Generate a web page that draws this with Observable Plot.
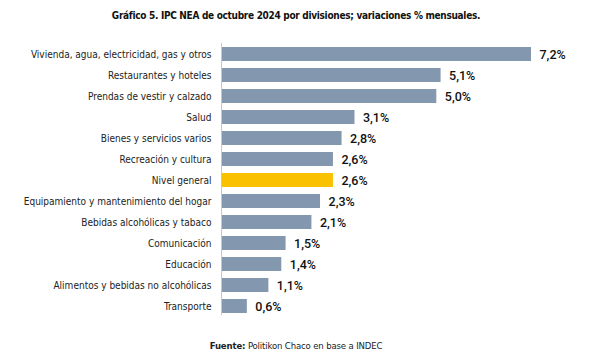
<!DOCTYPE html>
<html>
<head>
<meta charset="utf-8">
<script src="https://cdn.jsdelivr.net/npm/d3@7"></script>
<script src="https://cdn.jsdelivr.net/npm/@observablehq/plot@0.6"></script>
<style>
  html, body { margin: 0; padding: 0; background: #fff; }
  #wrap { width: 592px; height: 364px; position: relative; font-family: "DejaVu Sans Condensed", "Liberation Sans Narrow", sans-serif; }
  #title { height: 30px; line-height: 32px; text-align: center; font-size: 10px; letter-spacing: -0.3px; font-weight: bold; color: #111; }
  #caption { position: absolute; top: 340px; left: 0; width: 592px; text-align: center; font-size: 9.5px; letter-spacing: -0.15px; color: #222; }
  svg { display: block; }
</style>
</head>
<body>
<div id="wrap">
  <div id="title">Gráfico 5. IPC NEA de octubre 2024 por divisiones; variaciones % mensuales.</div>
  <div id="chart"></div>
  <div id="caption"><b>Fuente:</b> Politikon Chaco en base a INDEC</div>
</div>
<script>
const categories = [
  "Vivienda, agua, electricidad, gas y otros",
  "Restaurantes y hoteles",
  "Prendas de vestir y calzado",
  "Salud",
  "Bienes y servicios varios",
  "Recreación y cultura",
  "Nivel general",
  "Equipamiento y mantenimiento del hogar",
  "Bebidas alcohólicas y tabaco",
  "Comunicación",
  "Educación",
  "Alimentos y bebidas no alcohólicas",
  "Transporte"
];
const values = [7.2, 5.1, 5.0, 3.1, 2.8, 2.6, 2.6, 2.3, 2.1, 1.5, 1.4, 1.1, 0.6];
const highlight = "Nivel general";

const data = categories.map((c, i) => ({category: c, value: values[i]}));
const fmt = v => v.toFixed(1).replace(".", ",") + "%";

const chart = Plot.plot({
  width: 592,
  height: 300,
  marginLeft: 221,
  marginRight: 61,
  marginTop: 10,
  marginBottom: 10,
  style: {fontFamily: "'DejaVu Sans Condensed', 'Liberation Sans Narrow', sans-serif", fontSize: "10px", color: "#222"},
  x: {domain: [0, 7.2], axis: null},
  y: {domain: categories, padding: 0.33, label: null, tickSize: 0, tickPadding: 10},
  marks: [
    Plot.barX(data, {
      x: "value", y: "category",
      fill: d => d.category === highlight ? "#F9C100" : "#8397AE"
    }),
    Plot.ruleX([0], {stroke: "#c8c8c8", strokeWidth: 1, insetTop: 3, insetBottom: 5}),
    Plot.text(data, {
      x: "value", y: "category", text: d => fmt(d.value),
      dx: 8, textAnchor: "start",
      fontFamily: "Roboto, 'Liberation Sans', sans-serif", fontWeight: 500, fontSize: 12.5, fill: "#111"
    }),
    Plot.axisY({tickSize: 0, tickPadding: 10, fontSize: 10, fill: "#222"})
  ]
});
document.getElementById("chart").appendChild(chart);
</script>
</body>
</html>
